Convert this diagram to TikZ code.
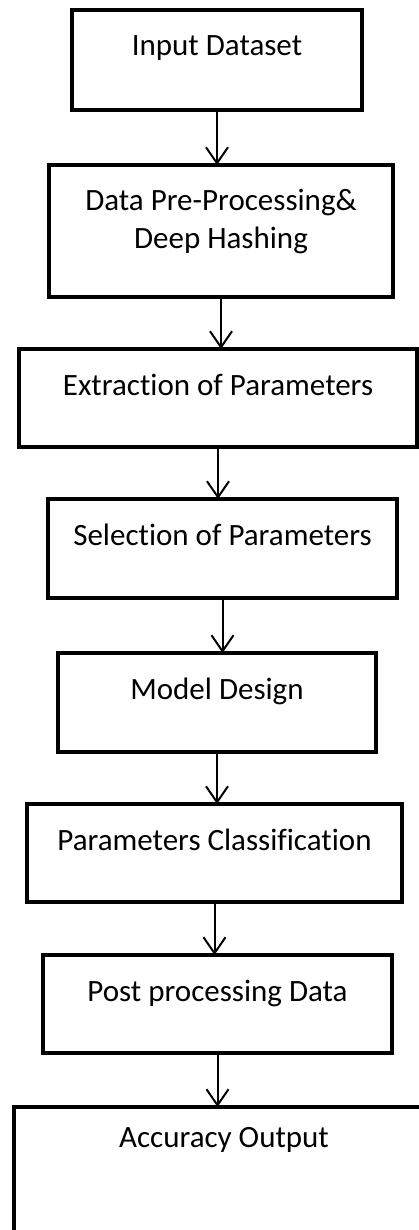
\documentclass[tikz,border=0pt]{standalone}
\usepackage{fontspec}
\setmainfont{Carlito}[Ligatures=NoCommon]
\usetikzlibrary{arrows.meta}
\tikzset{
  stepbox/.style={draw, line width=4.5pt, inner sep=0pt, outer sep=0pt,
    anchor=north west, align=center, text height=46pt,
    font=\fontsize{31}{38}\selectfont},
  flow/.style={line width=2pt, -{Straight Barb[length=16pt,width=22pt]}}
}
\begin{document}
\begin{tikzpicture}[x=1pt,y=-1pt]
  \useasboundingbox (0,0) rectangle (418,1230);
  \node[stepbox, minimum width=290pt, text depth=54pt] (input) at (72,10) {Input Dataset};
  \node[stepbox, minimum width=344pt, text height=84pt, text depth=48pt] (prep) at (49,165) {Data Pre-Processing\&\\Deep Hashing};
  \node[stepbox, minimum width=398pt, text depth=52pt] (extract) at (19,349) {Extraction of Parameters};
  \node[stepbox, minimum width=349pt, text depth=53pt] (select) at (48,499) {Selection of Parameters};
  \node[stepbox, minimum width=318pt, text depth=53pt] (model) at (58,653) {Model Design};
  \node[stepbox, minimum width=375pt, text depth=52pt] (classify) at (27,804) {Parameters Classification};
  \node[stepbox, minimum width=349pt, text depth=52pt] (post) at (43,955) {Post processing Data};
  \node[stepbox, minimum width=420pt, text depth=120pt, text height=40pt] (accuracy) at (14,1107) {Accuracy Output};
  \begin{scope}[flow]
    \draw (input.south) -- (input.south |- prep.north);
    \draw (prep.south) -- (prep.south |- extract.north);
    \draw (extract.south) -- (extract.south |- select.north);
    \draw (select.south) -- (select.south |- model.north);
    \draw (model.south) -- (model.south |- classify.north);
    \draw (classify.south) -- (classify.south |- post.north);
    \draw (post.south) -- (post.south |- accuracy.north);
  \end{scope}
\end{tikzpicture}
\end{document}
